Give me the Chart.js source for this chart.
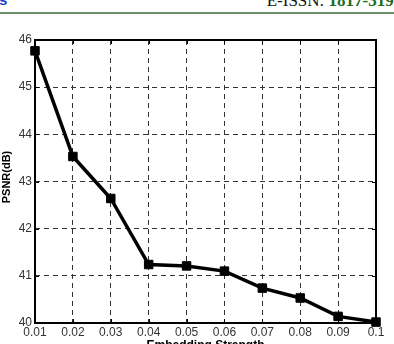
<!DOCTYPE html>
<html>
<head>
<meta charset="utf-8">
<script src="https://cdn.jsdelivr.net/npm/chart.js@4/dist/chart.umd.min.js"></script>
<style>
  html, body { margin: 0; padding: 0; background: #fff; overflow: hidden; }
  #wrap { position: relative; width: 394px; height: 344px; }
  #c { position: absolute; left: 0; top: 0; }
  .hdr { position: absolute; font-family: "Liberation Serif", "Times New Roman", serif; white-space: nowrap; }
  #issn { right: -4px; top: -9px; font-size: 17px; color: #111; }
  #issn b { color: #226b22; font-weight: bold; }
  #lefts { left: -1px; top: -9px; font-size: 15px; color: #1f3fd0; font-family: "Liberation Sans", Arial, sans-serif; font-weight: bold; }
  #rule { position: absolute; left: 0; top: 12px; width: 394px; height: 2px; background: #6b8f66; }
</style>
</head>
<body>
<div id="wrap">
  <div class="hdr" id="lefts">s</div>
  <div class="hdr" id="issn">E-ISSN: <b>1817-319.</b></div>
  <div id="rule"></div>
  <canvas id="c" width="394" height="344"></canvas>
</div>
<script>
const categories = ['0.01','0.02','0.03','0.04','0.05','0.06','0.07','0.08','0.09','0.1'];
const psnrValues = [45.77, 43.53, 42.64, 41.24, 41.21, 41.10, 40.74, 40.53, 40.14, 40.02];
const yTicks = [40, 41, 42, 43, 44, 45, 46];
const xTitle = 'Embedding Strength';
const yTitle = 'PSNR(dB)';

const FONT = '"Liberation Sans", Arial, sans-serif';

const boxPlugin = {
  id: 'boxPlugin',
  afterDraw(chart) {
    const {ctx, chartArea: a, scales} = chart;
    ctx.save();
    ctx.strokeStyle = '#000';
    ctx.lineWidth = 1;
    const tl = 4;
    ctx.beginPath();
    scales.x.ticks.forEach((t, i) => {
      const x = Math.round(scales.x.getPixelForTick(i)) + 0.5;
      ctx.moveTo(x, a.bottom); ctx.lineTo(x, a.bottom - tl);
      ctx.moveTo(x, a.top); ctx.lineTo(x, a.top + tl);
    });
    scales.y.ticks.forEach((t, i) => {
      const y = Math.round(scales.y.getPixelForTick(i)) + 0.5;
      ctx.moveTo(a.left, y); ctx.lineTo(a.left + tl, y);
      ctx.moveTo(a.right, y); ctx.lineTo(a.right - tl, y);
    });
    ctx.stroke();
    ctx.lineWidth = 2;
    ctx.strokeRect(a.left, a.top, a.right - a.left, a.bottom - a.top);
    ctx.fillStyle = '#000';
    ctx.font = 'bold 12px ' + FONT;
    ctx.textAlign = 'center';
    ctx.textBaseline = 'middle';
    ctx.fillText(xTitle, (a.left + a.right) / 2, 346);
    ctx.translate(7, 177);
    ctx.rotate(-Math.PI / 2);
    ctx.font = 'bold 11px ' + FONT;
    ctx.fillText(yTitle, 0, 0);
    ctx.restore();
  }
};

new Chart(document.getElementById('c'), {
  type: 'line',
  data: {
    labels: categories,
    datasets: [{
      data: psnrValues,
      borderColor: '#000',
      backgroundColor: '#000',
      borderWidth: 3.5,
      pointStyle: 'rect',
      pointRadius: 6,
      pointBorderWidth: 1,
      tension: 0,
      clip: false
    }]
  },
  options: {
    responsive: false,
    animation: false,
    devicePixelRatio: 1,
    layout: { padding: { top: 40, right: 18, left: 0, bottom: 0 } },
    plugins: { legend: { display: false }, tooltip: { enabled: false } },
    scales: {
      x: {
        type: 'category',
        offset: false,
        afterFit: s => { s.height = 21; },
        grid: { color: '#333', lineWidth: 1, drawTicks: false },
        border: { display: false, dash: [5, 4] },
        ticks: { color: '#333', font: { family: FONT, size: 12 }, padding: 2, maxRotation: 0, autoSkip: false }
      },
      y: {
        min: 40, max: 46,
        afterFit: s => { s.width = 35; },
        afterBuildTicks: s => { s.ticks = yTicks.map(v => ({ value: v })); },
        grid: { color: '#333', lineWidth: 1, drawTicks: false },
        border: { display: false, dash: [5, 4] },
        ticks: { color: '#333', font: { family: FONT, size: 12 }, padding: 3 }
      }
    }
  },
  plugins: [boxPlugin]
});
</script>
</body>
</html>
